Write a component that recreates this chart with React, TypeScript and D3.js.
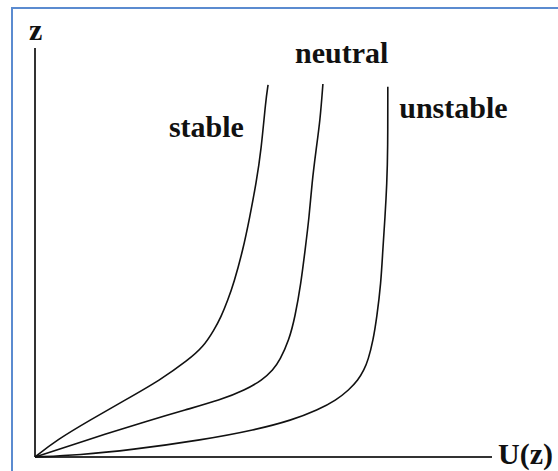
import React from "react";
import * as d3 from "d3";

const W = 558;
const H = 471;

// Abstract units: U (wind speed) 0..100, z (height) 0..100
const seriesNames = ["stable", "neutral", "unstable"];

const stableU = [0, 4.8, 12.0, 19.7, 27.4, 33.5, 36.8, 39.2, 40.7, 42.2, 43.5, 45.5, 47.0, 48.4, 49.5, 50.5, 51.0];
const stableZ = [0, 4.2, 9.0, 13.9, 18.8, 23.7, 26.9, 31.1, 34.2, 38.4, 42.5, 50.6, 58.7, 67.0, 75.1, 87.3, 91.0];

const neutralU = [0, 11.4, 25.2, 32.8, 40.5, 46.0, 49.7, 52.1, 53.6, 55.6, 56.9, 58.2, 59.1, 60.0, 60.6, 61.5, 62.4, 63.0];
const neutralZ = [0, 4.2, 9.0, 11.5, 13.9, 16.4, 18.8, 21.3, 23.7, 28.6, 34.2, 42.5, 50.6, 58.7, 67.0, 75.1, 82.4, 91.2];

const unstableU = [0, 9.8, 20.8, 36.8, 48.1, 56.2, 61.9, 65.9, 68.7, 70.7, 72.0, 72.9, 74.0, 74.8, 75.7, 76.1, 76.6, 77.0, 77.2, 77.2];
const unstableZ = [0, 0.5, 1.7, 4.2, 6.6, 9.0, 11.5, 13.9, 16.4, 18.8, 21.3, 23.7, 28.6, 34.2, 42.5, 50.6, 58.7, 67.0, 75.1, 90.5];

// label anchor positions in data units (text baseline start)
const labelU = [29.3, 56.9, 79.7];
const labelZ = [78.2, 96.4, 82.9];

const xAxisLabel = "U(z)";
const yAxisLabel = "z";

export default function App() {
  const x = d3.scaleLinear().domain([0, 100]).range([35, 492]);
  const y = d3.scaleLinear().domain([0, 100]).range([457, 48]);

  const series = [
    stableU.map((u, i) => [u, stableZ[i]] as [number, number]),
    neutralU.map((u, i) => [u, neutralZ[i]] as [number, number]),
    unstableU.map((u, i) => [u, unstableZ[i]] as [number, number]),
  ];

  const line = d3
    .line<[number, number]>()
    .x((d) => x(d[0]))
    .y((d) => y(d[1]))
    .curve(d3.curveBasis);

  const font = "'Liberation Serif', 'Times New Roman', serif";

  return (
    <svg
      width={W}
      height={H}
      style={{ position: "absolute", left: 0, top: 0, background: "#fff" }}
    >
      <rect x={0} y={0} width={W} height={H} fill="#fff" />
      {/* blue frame: top and left edges */}
      <line x1={11} y1={8} x2={W} y2={8} stroke="#5b8bd0" strokeWidth={2} />
      <line x1={12} y1={7} x2={12} y2={H} stroke="#5b8bd0" strokeWidth={2} />

      {/* axes */}
      <line x1={x(0)} y1={y(0)} x2={x(100)} y2={y(0)} stroke="#333" strokeWidth={2} />
      <line x1={x(0)} y1={y(0)} x2={x(0)} y2={y(100)} stroke="#333" strokeWidth={2} />

      {series.map((s, i) => (
        <path key={seriesNames[i]} d={line(s) || ""} fill="none" stroke="#111" strokeWidth={1.6} />
      ))}

      {seriesNames.map((n, i) => (
        <text
          key={n}
          x={x(labelU[i])}
          y={y(labelZ[i])}
          fontFamily={font}
          fontWeight="bold"
          fontSize={30}
          fill="#111"
        >
          {n}
        </text>
      ))}

      <text x={29} y={40} fontFamily={font} fontWeight="bold" fontSize={30} fill="#111">
        {yAxisLabel}
      </text>
      <text x={498} y={464} fontFamily={font} fontWeight="bold" fontSize={30} fill="#111">
        {xAxisLabel}
      </text>
    </svg>
  );
}
